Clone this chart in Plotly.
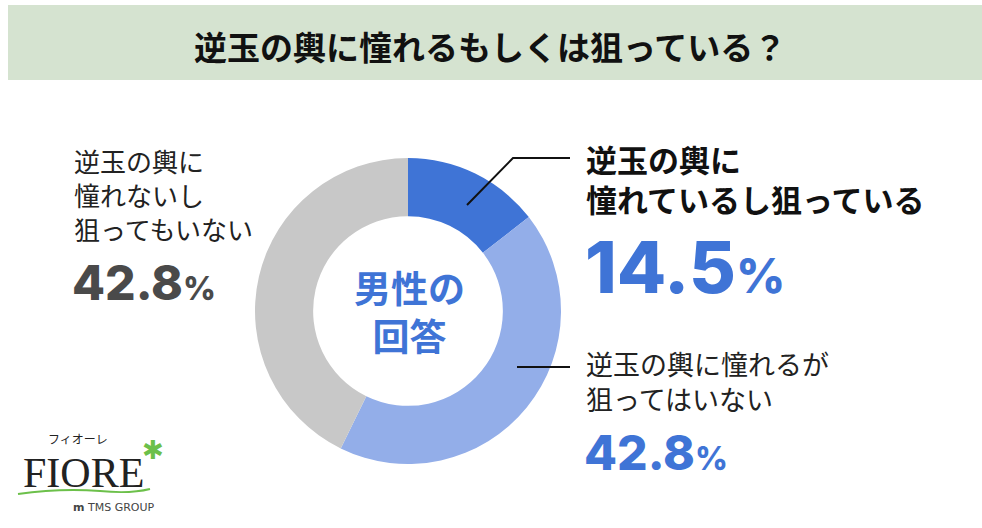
import plotly.graph_objects as go

W, H = 982, 528

# ---- data ----
categories = ["逆玉の輿に憧れているし狙っている", "逆玉の輿に憧れるが狙ってはいない", "逆玉の輿に憧れないし狙ってもいない"]
values = [14.5, 42.8, 42.8]
pct_labels = ["14.5", "42.8", "42.8"]
colors = ["#3f74d6", "#93aee9", "#c8c8c8"]
title_text = "逆玉の輿に憧れるもしくは狙っている？"
center_text = "男性の<br>回答"
label_texts = ["逆玉の輿に<br>憧れているし狙っている", "逆玉の輿に憧れるが<br>狙ってはいない", "逆玉の輿に<br>憧れないし<br>狙ってもいない"]


def px(x):
    return x / W


def py(y):
    return 1 - y / H


JP = "Noto Sans CJK JP"
NUM = "Inter"

cx, cy, R = 408, 311, 153

fig = go.Figure(go.Pie(
    values=values, labels=categories, sort=False, direction="clockwise", rotation=0,
    hole=0.62, marker=dict(colors=colors, line=dict(width=0)), textinfo="none",
    hoverinfo="label+percent", showlegend=False,
    domain=dict(x=[px(cx - R), px(cx + R)], y=[py(cy + R), py(cy - R)]),
))

shapes = [
    dict(type="rect", xref="paper", yref="paper", x0=px(8), x1=px(982), y0=py(80), y1=py(5),
         fillcolor="#d5e3d0", line=dict(width=0), layer="below"),
    dict(type="path", xref="paper", yref="paper",
         path=f"M {px(467)} {py(205)} L {px(513)} {py(158)} L {px(570)} {py(158)}",
         line=dict(color="#111111", width=2)),
    dict(type="line", xref="paper", yref="paper", x0=px(517), x1=px(570), y0=py(367), y1=py(367),
         line=dict(color="#111111", width=2)),
    # logo wave
    dict(type="path", xref="paper", yref="paper",
         path=f"M {px(18)} {py(494)} Q {px(60)} {py(488)} {px(100)} {py(491)} Q {px(130)} {py(494)} {px(150)} {py(489)}",
         line=dict(color="#6cc04a", width=2)),
]

ann = []


def add(text, x, y, size, color="#222222", family=JP, weight="normal", xanchor="left"):
    ann.append(dict(text=text, x=px(x), y=py(y), xref="paper", yref="paper", xanchor=xanchor,
                    yanchor="middle", showarrow=False, align="left", borderpad=0,
                    font=dict(size=size, color=color, family=family, weight=weight)))


# title
add(title_text, 490, 46, 33, "#111111", JP, "bold", "center")
# center
ann.append(dict(text=center_text, x=px(cx + 1), y=py(311), xref="paper", yref="paper", showarrow=False,
                xanchor="center", yanchor="middle", borderpad=0,
                font=dict(size=37, color="#3f74d6", family=JP, weight="bold")))

# right top label (bold)
add(label_texts[0], 585, 178, 31, "#111111", JP, "bold")
add(pct_labels[0] + "<span style='font-size:48px'>%</span>", 584, 266, 72, colors[0], NUM, 800)

# right bottom label
add(label_texts[1], 585, 381, 27, "#222222", JP)
add(pct_labels[1] + "<span style='font-size:32px'>%</span>", 583, 452, 48, colors[0], NUM, 800)

# left label
add(label_texts[2], 73, 194, 26, "#222222", JP)
add(pct_labels[2] + "<span style='font-size:32px'>%</span>", 71, 282, 48, "#4a4a4a", NUM, 800)

# logo
add("フィオーレ", 78, 438, 12, "#222222", JP, "normal", "center")
add("FIORE", 83, 473, 42, "#222222", "Liberation Serif", "normal", "center")
add("✱", 153, 450, 26, "#6cc04a", "DejaVu Sans", "bold", "center")
add("<b>m</b> TMS GROUP", 114, 507, 11, "#444444", "DejaVu Sans", "normal", "center")

fig.update_layout(
    width=W, height=H, margin=dict(l=0, r=0, t=0, b=0),
    paper_bgcolor="white", plot_bgcolor="white",
    shapes=shapes, annotations=ann,
)

fig.write_html("out.html", config={"displayModeBar": False},
               post_script="document.body.style.margin='0';")
